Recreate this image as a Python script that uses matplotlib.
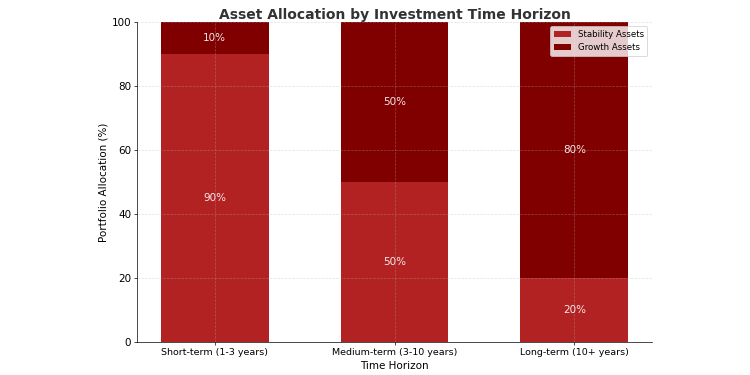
import matplotlib
matplotlib.use("Agg")
import matplotlib.pyplot as plt
import numpy as np

categories = ["Short-term (1-3 years)", "Medium-term (3-10 years)", "Long-term (10+ years)"]
stability = [90, 50, 20]
growth = [10, 50, 80]

fig, ax = plt.subplots(figsize=(12, 6), dpi=62.5)
fig.subplots_adjust(left=0.183, right=0.869, top=0.941, bottom=0.088)

x = np.arange(len(categories))
b1 = ax.bar(x, stability, width=0.6, color="#B22222", label="Stability Assets")
b2 = ax.bar(x, growth, width=0.6, bottom=stability, color="#800000", label="Growth Assets")

for i in range(len(categories)):
    ax.text(x[i], stability[i] / 2, f"{stability[i]}%", ha="center", va="center",
            color="white", fontsize=12, alpha=0.9)
    ax.text(x[i], stability[i] + growth[i] / 2, f"{growth[i]}%", ha="center", va="center",
            color="white", fontsize=12, alpha=0.9)

ax.set_xticks(x)
ax.set_xticklabels(categories, fontsize=11)
ax.set_ylim(0, 100)
ax.tick_params(axis="y", labelsize=12)
ax.set_xlabel("Time Horizon", fontsize=12)
ax.set_ylabel("Portfolio Allocation (%)", fontsize=12)
ax.set_title("Asset Allocation by Investment Time Horizon", fontsize=16, fontweight="bold",
             color="#333333", pad=4)
ax.grid(True, linestyle="--", alpha=0.4)
ax.spines["top"].set_visible(False)
ax.spines["right"].set_visible(False)
ax.legend(loc="upper right", fontsize=10)

fig.savefig("out.png", dpi=62.5)
